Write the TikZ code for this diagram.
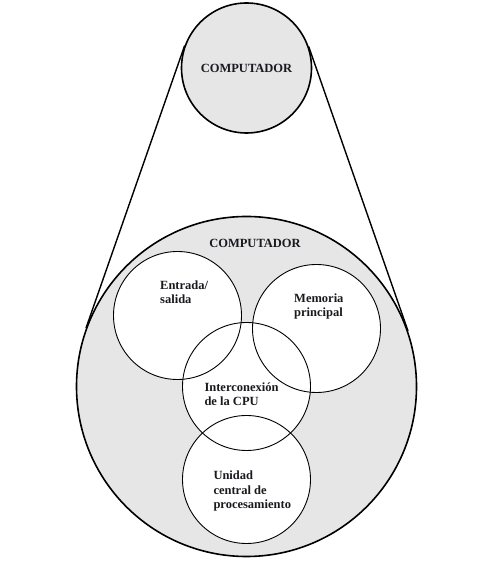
\documentclass[tikz,border=0pt]{standalone}
\usepackage{fontspec}
\setmainfont{Liberation Serif}
\definecolor{shadegray}{RGB}{230,230,230}
\definecolor{inkgray}{RGB}{25,25,30}
\usetikzlibrary{positioning,calc}

\begin{document}
\begin{tikzpicture}[x=1pt, y=1pt,
      whole/.style={circle, draw=black, line width=1.6pt, fill=shadegray,
                    inner sep=0pt},
      part/.style={circle, fill=white, inner sep=0pt, minimum size=128pt},
      rim/.style={circle, draw=black, line width=0.9pt, inner sep=0pt,
                  minimum size=128pt},
      lbl/.style={font=\fontsize{12.5}{14.5}\selectfont\bfseries,
                  text=inkgray, inner sep=0pt, align=left},
      tang/.style={line width=1.4pt, black}
    ]
    \useasboundingbox (0,0) rectangle (479,565);
    % outer circles and the two tangents
    \node[whole, minimum size=130pt] (top) at (246.5,497) {};
    \node[whole, minimum size=340pt] (big) at (246.5,178.5) {};
    \draw[tang] (top.160.75) -- (big.160.75);
    \draw[tang] (top.19.25) -- (big.19.25);
    % white parts inside the big circle
    \node[part] (ic) at (big.center) {};
    \node[part] (io) at ($(ic)+(-69,71)$) {};
    \node[part] (mem) at ($(ic)+(70,58)$) {};
    \node[part] (cpu) at ($(ic)+(0,-93)$) {};
    \foreach \c in {io,mem,ic,cpu}
      \node[rim] at (\c) {};
    % texts
    \node[lbl] (topT) at (top.center) {COMPUTADOR};
    \node[lbl] (bigT) at (255,322) {COMPUTADOR};
    \node[lbl, anchor=west] (ioT) at (160,273) {Entrada/\\salida};
    \node[lbl, anchor=west] (memT) at (294,258.5) {Memoria\\principal};
    \node[lbl, anchor=west] (icT) at (204.3,171) {Interconexión\\de la CPU};
    \node[lbl, anchor=west] (cpuT) at (213.3,74) {Unidad\\central de\\procesamiento};
  \end{tikzpicture}
\end{document}
